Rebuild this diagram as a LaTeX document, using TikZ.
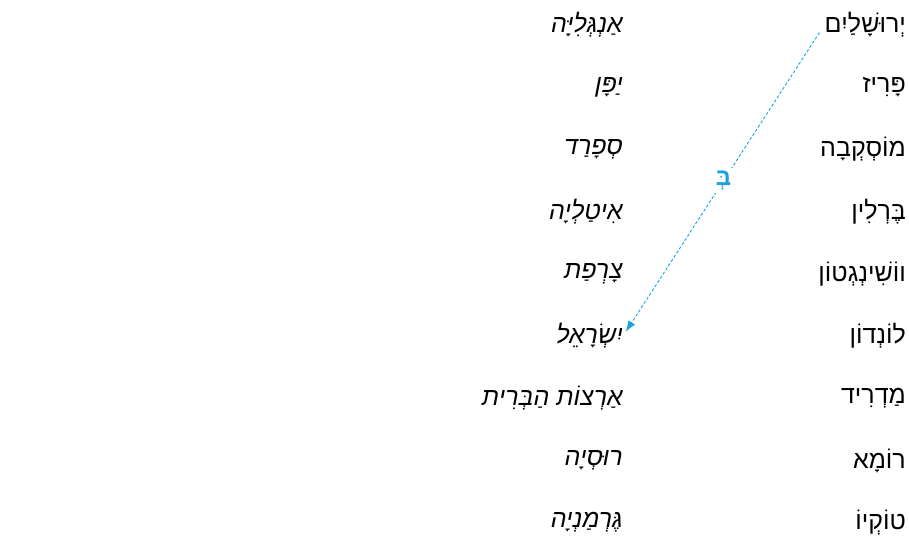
\documentclass[tikz,border=0pt]{standalone}
\usepackage{fontspec}
\TeXXeTstate=1
\newfontfamily\hebfont[Script=Hebrew]{Liberation Sans}
\newfontfamily\hebit[Script=Hebrew]{Liberation Sans Italic}
\definecolor{arr}{HTML}{1BA1E2}
\usetikzlibrary{arrows.meta}
\begin{document}
\begin{tikzpicture}[x=1pt,y=-1pt,
  city/.style={anchor=east,inner sep=0pt,font=\hebfont\fontsize{25}{28}\selectfont},
  ctry/.style={anchor=east,inner sep=0pt,font=\hebit\fontsize{25}{28}\selectfont}]
\useasboundingbox (0,0) rectangle (909,538);
\foreach \i/\c/\k in {0/יְרוּשָׁלַיִם/אַנְגְּלִיָּה,1/פָּרִיז/יַפָּן,2/מוֹסְקְבָה/סְפָרַד,3/בֶּרְלִין/אִיטַלְיָה,4/ווֹשִׁינְגְטוֹן/צָרְפַת,5/לוֹנְדוֹן/יִשְׂרָאֵל,6/מַדְרִיד/אַרְצוֹת הַבְּרִית,7/רוֹמָא/רוּסְיָה,8/טוֹקְיוֹ/גֶּרְמַנְיָה}{
  \node[city] (c\i) at (906,{25+62.2*\i}) {\beginR\c\endR};
  \node[ctry] (k\i) at (623,{25+62.2*\i}) {\beginR\k\endR};
}
\draw[arr,line width=0.9pt,dash pattern=on 3pt off 2pt,-{Latex[length=11pt,width=8pt]},shorten <=9pt,shorten >=5pt] (c0.west) -- node[fill=white,inner sep=3pt,text=arr,font=\hebfont\fontsize{24}{26}\selectfont\bfseries]{\beginR בְּ\endR} (k5.east);
\end{tikzpicture}
\end{document}
